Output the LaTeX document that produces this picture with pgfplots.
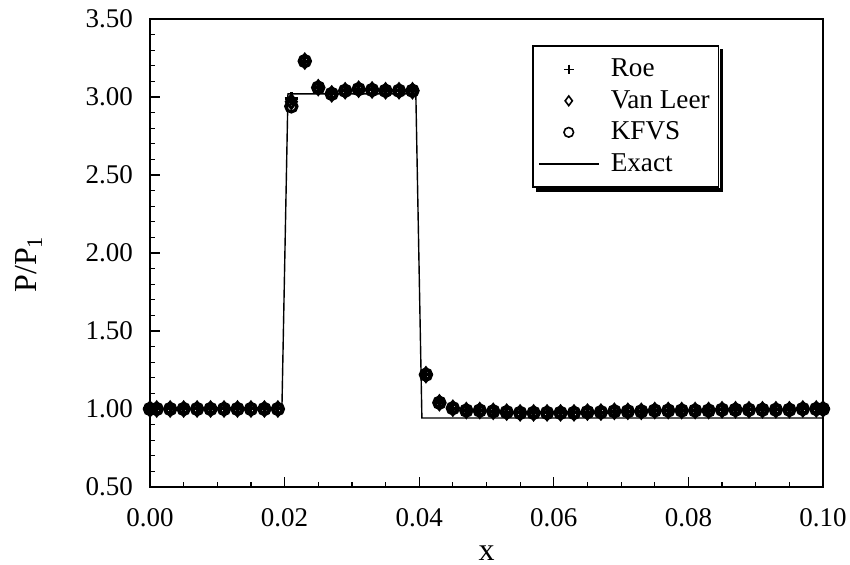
\documentclass[border=0pt]{standalone}
\usepackage{fontspec}
\setmainfont{Liberation Serif}
\usepackage{pgfplots}
\usepackage{pgfplotstable}
\pgfplotsset{compat=1.18}

\pgfplotsset{
  mleg/.style={legend image code/.code={\draw[##1, mark size=2.4pt, line width=0.8pt] plot coordinates {(15pt,0pt)};\path[draw=none,fill=none] (0pt,0pt) -- (34pt,0pt);}},
  lineleg/.style={legend image code/.code={\draw[##1] (0pt,0pt) -- (30pt,0pt);\path[draw=none,fill=none] (0pt,0pt) -- (34pt,0pt);}},
}

\pgfplotstableread{
x      roe    vl     kfvs
0.000  1.000  1.000  1.000
0.001  1.000  1.000  1.000
0.003  1.000  1.000  1.000
0.005  1.000  1.000  1.000
0.007  1.000  1.000  1.000
0.009  1.000  1.000  1.000
0.011  1.000  1.000  1.000
0.013  1.000  1.000  1.000
0.015  1.000  1.000  1.000
0.017  1.000  1.000  1.000
0.019  1.000  1.000  1.000
0.021  2.990  2.970  2.940
0.023  3.230  3.230  3.230
0.025  3.060  3.060  3.060
0.027  3.020  3.020  3.020
0.029  3.040  3.040  3.040
0.031  3.050  3.050  3.050
0.033  3.045  3.045  3.045
0.035  3.040  3.040  3.040
0.037  3.040  3.040  3.040
0.039  3.040  3.040  3.040
0.041  1.220  1.220  1.220
0.043  1.040  1.040  1.040
0.045  1.005  1.005  1.005
0.047  0.990  0.990  0.990
0.049  0.990  0.990  0.990
0.051  0.985  0.985  0.985
0.053  0.980  0.980  0.980
0.055  0.975  0.975  0.975
0.057  0.975  0.975  0.975
0.059  0.975  0.975  0.975
0.061  0.975  0.975  0.975
0.063  0.975  0.975  0.975
0.065  0.980  0.980  0.980
0.067  0.980  0.980  0.980
0.069  0.985  0.985  0.985
0.071  0.985  0.985  0.985
0.073  0.985  0.985  0.985
0.075  0.990  0.990  0.990
0.077  0.990  0.990  0.990
0.079  0.990  0.990  0.990
0.081  0.990  0.990  0.990
0.083  0.990  0.990  0.990
0.085  0.995  0.995  0.995
0.087  0.995  0.995  0.995
0.089  0.995  0.995  0.995
0.091  0.995  0.995  0.995
0.093  0.995  0.995  0.995
0.095  0.995  0.995  0.995
0.097  1.000  1.000  1.000
0.099  1.000  1.000  1.000
0.100  1.000  1.000  1.000
}\numdata

\pgfplotstableread{
x       p
0.0000  1.000
0.0196  1.000
0.0205  3.020
0.0395  3.020
0.0404  0.942
0.1000  0.942
}\exact

\begin{document}
\begin{tikzpicture}
\begin{axis}[
  scale only axis, width=336.5pt, height=234pt,
  xmin=0, xmax=0.1, ymin=0.5, ymax=3.5,
  xtick={0,0.02,0.04,0.06,0.08,0.1},
  ytick={0.5,1,1.5,2,2.5,3,3.5},
  scaled x ticks=false, scaled y ticks=false,
  minor x tick num=3, minor y tick num=4,
  tick pos=left, tick align=inside,
  major tick length=5pt, minor tick length=2.5pt,
  every tick/.style={black, line width=0.6pt},
  axis line style={line width=0.8pt},
  /pgf/number format/assume math mode=true,
  /pgf/number format/fixed, /pgf/number format/fixed zerofill,
  /pgf/number format/precision=2,
  tick label style={font=\fontsize{13.5}{16}\selectfont},
  xticklabel style={yshift=-7pt},
  yticklabel style={xshift=-5pt},
  xlabel={x}, ylabel={P/P\textsubscript{1}},
  label style={font=\fontsize{16}{19}\selectfont},
  xlabel style={at={(axis description cs:0.5,-0.142)}, anchor=center},
  ylabel style={at={(axis description cs:-0.18,0.476)}, anchor=center},
  legend style={name=leg, at={(rel axis cs:0.568,0.944)}, anchor=north west,
    draw=black, line width=0.8pt, fill=white,
    font=\fontsize{13.6}{16}\selectfont, cells={anchor=west},
    row sep=1.3pt, inner xsep=2.5pt, inner ysep=4.5pt},
  legend cell align=left,
]
\addplot[only marks, mark=+, mark size=3.3pt, line width=1.5pt, black, mleg] table[x=x,y=roe] {\numdata};
\addlegendentry{Roe}
\addplot[only marks, mark=diamond, mark size=3.3pt, line width=1.5pt, black, mleg] table[x=x,y=vl] {\numdata};
\addlegendentry{Van Leer}
\addplot[only marks, mark=o, mark size=2.8pt, line width=1.6pt, black, mleg] table[x=x,y=kfvs] {\numdata};
\addlegendentry{KFVS}
\addplot[black, line width=0.7pt, lineleg] table[x=x,y=p] {\exact};
\addlegendentry{Exact}
\coordinate (sw) at (rel axis cs:0,0);
\end{axis}
\draw[line width=1.6pt] ([xshift=1.0pt,yshift=-2pt]leg.north east) -- ([xshift=1.0pt,yshift=-1.0pt]leg.south east) -- ([xshift=2pt,yshift=-1.0pt]leg.south west);
\pgfresetboundingbox
\path (sw) ++(-75pt,-39pt) rectangle ++(425pt,282.5pt);
\end{tikzpicture}
\end{document}
